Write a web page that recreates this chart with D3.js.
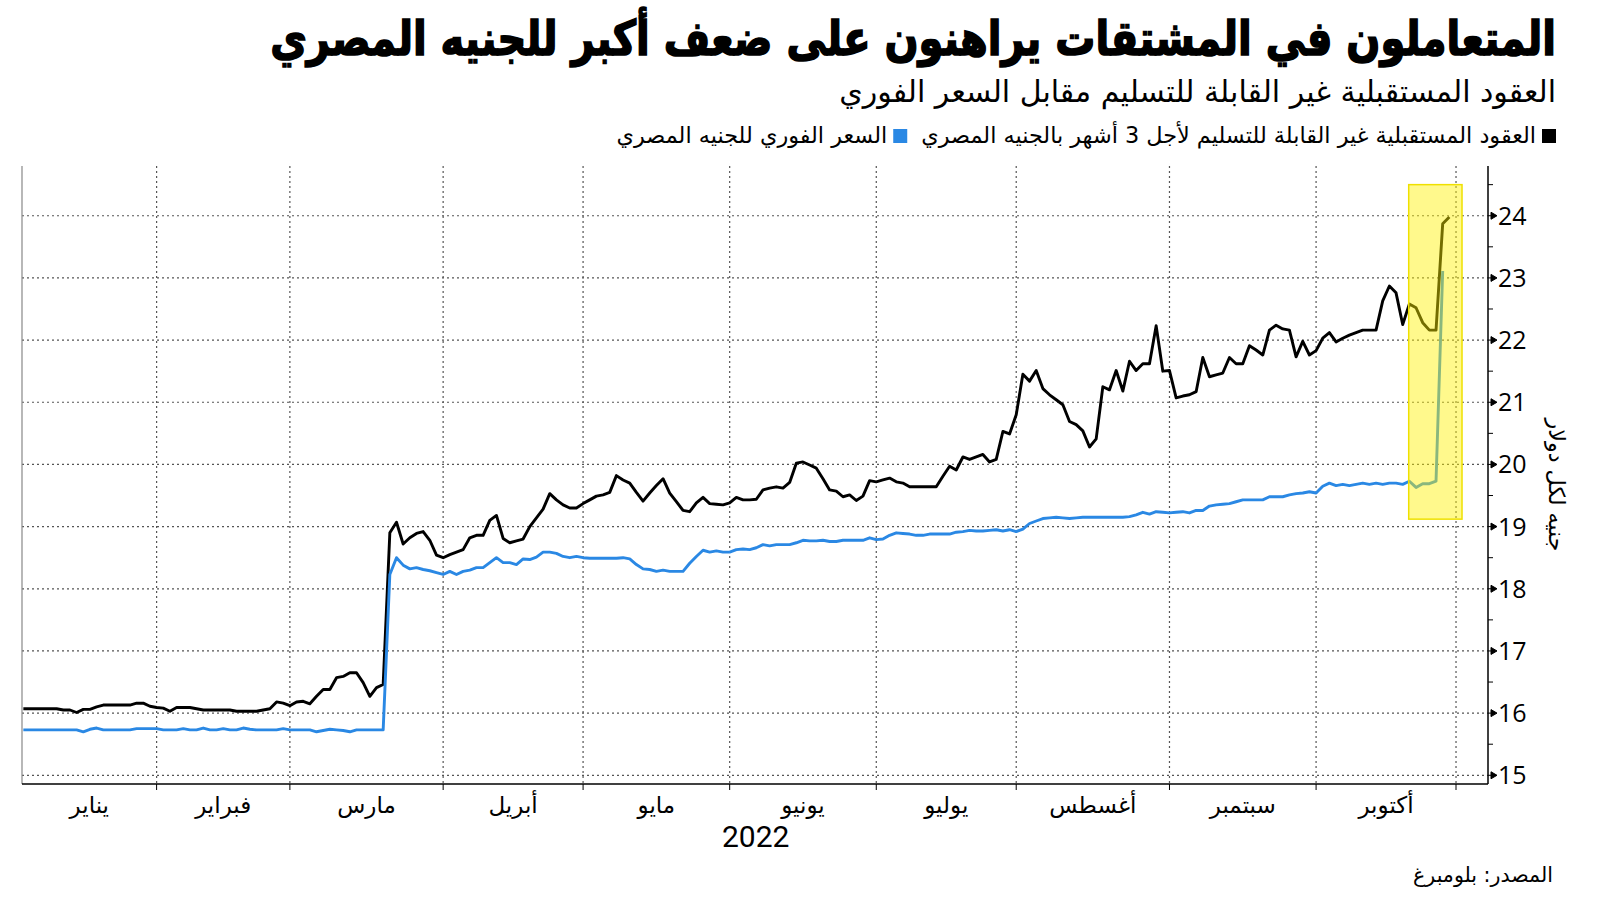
<!DOCTYPE html>
<html>
<head>
<meta charset="utf-8">
<script src="https://cdn.jsdelivr.net/npm/d3@7/dist/d3.min.js"></script>
<style>
  body { margin: 0; background: #fff; }
  svg { display: block; }
</style>
</head>
<body>
<svg id="chart" width="1600" height="901"></svg>
<script>
// ---- chart text ----
var titleText = "المتعاملون في المشتقات يراهنون على ضعف أكبر للجنيه المصري";
var subtitleText = "العقود المستقبلية غير القابلة للتسليم مقابل السعر الفوري";
var seriesNames = ["العقود المستقبلية غير القابلة للتسليم لأجل 3 أشهر بالجنيه المصري", "السعر الفوري للجنيه المصري"];
var monthNames = ["يناير", "فبراير", "مارس", "أبريل", "مايو", "يونيو", "يوليو", "أغسطس", "سبتمبر", "أكتوبر"];
var yearLabel = "2022";
var yTicks = [15, 16, 17, 18, 19, 20, 21, 22, 23, 24];
var yTitle = "جنيه لكل دولار";
var sourceText = "المصدر: بلومبرغ";

// ---- data: one value per trading day (weekdays), starting 4 Jan 2022 ----
var firstDay = "2022-01-04";

// 3-month NDF, EGP per USD
var ndf = [
  16.07, 16.07, 16.07, 16.07, 16.07, 16.07, 16.05, 16.05, 16.01, 16.06,
  16.06, 16.10, 16.13, 16.13, 16.13, 16.13, 16.13, 16.16, 16.16, 16.11,
  16.09, 16.08, 16.03, 16.09, 16.09, 16.09, 16.07, 16.05, 16.05, 16.05,
  16.05, 16.05, 16.03, 16.03, 16.03, 16.03, 16.05, 16.07, 16.18, 16.16,
  16.12, 16.18, 16.19, 16.15, 16.27, 16.38, 16.38, 16.57, 16.59, 16.65,
  16.65, 16.49, 16.27, 16.41, 16.46, 18.90, 19.07, 18.72, 18.82, 18.89,
  18.92, 18.78, 18.54, 18.50, 18.55, 18.59, 18.63, 18.82, 18.86, 18.86,
  19.10, 19.18, 18.81, 18.74, 18.77, 18.80, 19.00, 19.14, 19.28, 19.53,
  19.43, 19.35, 19.30, 19.30, 19.37, 19.43, 19.49, 19.51, 19.55, 19.82,
  19.75, 19.70, 19.55, 19.41, 19.54, 19.66, 19.77, 19.54, 19.40, 19.26,
  19.24, 19.38, 19.47, 19.37, 19.36, 19.35, 19.38, 19.47, 19.43, 19.43,
  19.44, 19.59, 19.62, 19.64, 19.62, 19.71, 20.02, 20.04, 19.99, 19.94,
  19.77, 19.59, 19.57, 19.48, 19.51, 19.42, 19.49, 19.74, 19.72, 19.75,
  19.78, 19.72, 19.70, 19.64, 19.64, 19.64, 19.64, 19.64, 19.81, 19.97,
  19.91, 20.12, 20.08, 20.12, 20.16, 20.04, 20.08, 20.53, 20.49, 20.80,
  21.45, 21.34, 21.51, 21.22, 21.12, 21.04, 20.96, 20.69, 20.64, 20.54,
  20.28, 20.41, 21.25, 21.20, 21.51, 21.18, 21.66, 21.51, 21.62, 21.62,
  22.23, 21.50, 21.51, 21.07, 21.10, 21.12, 21.17, 21.72, 21.41, 21.44,
  21.47, 21.72, 21.62, 21.62, 21.91, 21.84, 21.76, 22.16, 22.24, 22.18,
  22.16, 21.73, 21.98, 21.76, 21.83, 22.03, 22.12, 21.97, 22.03, 22.08,
  22.12, 22.16, 22.16, 22.16, 22.63, 22.87, 22.76, 22.25, 22.58, 22.52,
  22.28, 22.16, 22.16, 23.87, 23.98
];

// spot rate, EGP per USD
var spot = [
  15.73, 15.73, 15.73, 15.73, 15.73, 15.73, 15.73, 15.73, 15.73, 15.70,
  15.74, 15.76, 15.73, 15.73, 15.73, 15.73, 15.73, 15.75, 15.75, 15.75,
  15.75, 15.73, 15.73, 15.73, 15.75, 15.73, 15.73, 15.76, 15.73, 15.73,
  15.75, 15.73, 15.73, 15.76, 15.74, 15.73, 15.73, 15.73, 15.73, 15.75,
  15.73, 15.73, 15.73, 15.73, 15.70, 15.72, 15.74, 15.73, 15.72, 15.70,
  15.73, 15.73, 15.73, 15.73, 15.73, 18.23, 18.50, 18.38, 18.32, 18.34,
  18.31, 18.29, 18.26, 18.23, 18.28, 18.23, 18.28, 18.30, 18.34, 18.34,
  18.42, 18.50, 18.42, 18.42, 18.39, 18.48, 18.47, 18.51, 18.59, 18.59,
  18.57, 18.52, 18.50, 18.52, 18.50, 18.49, 18.49, 18.49, 18.49, 18.49,
  18.50, 18.48, 18.39, 18.32, 18.31, 18.28, 18.30, 18.28, 18.28, 18.28,
  18.41, 18.52, 18.62, 18.59, 18.61, 18.59, 18.59, 18.63, 18.64, 18.63,
  18.66, 18.71, 18.69, 18.71, 18.71, 18.71, 18.74, 18.78, 18.77, 18.77,
  18.78, 18.76, 18.76, 18.78, 18.78, 18.78, 18.78, 18.82, 18.79, 18.80,
  18.86, 18.90, 18.89, 18.88, 18.86, 18.86, 18.88, 18.88, 18.88, 18.88,
  18.91, 18.92, 18.94, 18.93, 18.93, 18.94, 18.95, 18.93, 18.95, 18.92,
  18.96, 19.05, 19.09, 19.13, 19.14, 19.15, 19.14, 19.13, 19.14, 19.15,
  19.15, 19.15, 19.15, 19.15, 19.15, 19.15, 19.16, 19.19, 19.23, 19.20,
  19.24, 19.23, 19.22, 19.23, 19.24, 19.22, 19.26, 19.26, 19.33, 19.35,
  19.36, 19.37, 19.40, 19.43, 19.43, 19.43, 19.43, 19.48, 19.48, 19.48,
  19.51, 19.53, 19.54, 19.56, 19.54, 19.65, 19.70, 19.66, 19.68, 19.66,
  19.68, 19.70, 19.68, 19.70, 19.68, 19.70, 19.70, 19.68, 19.73, 19.63,
  19.69, 19.69, 19.73, 23.11
];

// highlighted window (trading-day number, EGP per USD)
var highlightDays = [207.9, 215.9];
var highlightRange = [19.12, 24.5];

// ---- trading-day calendar ----
function tradingDays(start, n) {
  var out = [];
  var d = new Date(start + "T00:00:00");
  while (out.length < n) {
    var wd = d.getDay();
    if (wd !== 0 && wd !== 6) out.push(new Date(d));
    d.setDate(d.getDate() + 1);
  }
  return out;
}
var days = tradingDays(firstDay, 230);

// first trading day of each month Feb..Nov
var monthStarts = [];
for (var m = 1; m <= 10; m++) {
  var ms = new Date(2022, m, 1);
  monthStarts.push(days.findIndex(function(d) { return d >= ms; }));
}

// ---- layout ----
var svg = d3.select("#chart");
var plotLeft = 22, plotRight = 1488, plotTop = 166, plotBottom = 784;

var x = d3.scaleLinear().domain([-0.2, 219.8]).range([plotLeft, plotRight]);
var y = d3.scaleLinear().domain([14.86, 24.8]).range([plotBottom, plotTop]);

var arabicFont = "'DejaVu Sans', sans-serif";

function fitWidth(sel, w) {
  var len = sel.node().getComputedTextLength();
  var fs = parseFloat(sel.attr("font-size"));
  sel.attr("font-size", fs * w / len);
  return fs * w / len;
}

// ---- titles ----
// heavy display face in the original: stretch DejaVu Bold a little upward
var t = svg.append("text")
  .attr("transform", "translate(1556,55) scale(1,1.2)")
  .attr("direction", "rtl").attr("text-anchor", "start")
  .attr("font-family", arabicFont).attr("font-weight", "bold")
  .attr("font-size", 40).attr("fill", "#000")
  .attr("stroke", "#000").attr("stroke-width", 1.4)
  .text(titleText);
fitWidth(t, 1286);

var st = svg.append("text")
  .attr("x", 1556).attr("y", 102)
  .attr("direction", "rtl").attr("text-anchor", "start")
  .attr("font-family", arabicFont)
  .attr("font-size", 26).attr("fill", "#000")
  .text(subtitleText);
fitWidth(st, 717);

// ---- legend ----
var legendColors = ["#000000", "#2a88e4"];
var lx = 1556;
var legendSize = null;
seriesNames.forEach(function(name, i) {
  svg.append("rect")
    .attr("x", lx - 14).attr("y", 129)
    .attr("width", 14).attr("height", 14)
    .attr("fill", legendColors[i]);
  var lt = svg.append("text")
    .attr("x", lx - 20).attr("y", 143)
    .attr("direction", "rtl").attr("text-anchor", "start")
    .attr("font-family", arabicFont)
    .attr("font-size", legendSize || 19).attr("fill", "#000")
    .text(name);
  if (i === 0) legendSize = fitWidth(lt, 615);
  lx = lx - 20 - lt.node().getComputedTextLength() - 14;
});

// ---- grid ----
var grid = svg.append("g");
grid.selectAll("line.h")
  .data(yTicks)
  .enter().append("line")
  .attr("class", "h")
  .attr("x1", plotLeft).attr("x2", plotRight)
  .attr("y1", function(d) { return y(d); })
  .attr("y2", function(d) { return y(d); })
  .attr("stroke", "#555").attr("stroke-width", 1.2)
  .attr("stroke-dasharray", "2,3");

grid.selectAll("line.v")
  .data(monthStarts)
  .enter().append("line")
  .attr("class", "v")
  .attr("x1", function(d) { return x(d); })
  .attr("x2", function(d) { return x(d); })
  .attr("y1", plotTop).attr("y2", plotBottom)
  .attr("stroke", "#555").attr("stroke-width", 1.2)
  .attr("stroke-dasharray", "2,3");

// ---- lines ----
var line = d3.line()
  .x(function(d, i) { return x(i); })
  .y(function(d) { return y(d); });

svg.append("path")
  .datum(ndf)
  .attr("d", line)
  .attr("fill", "none")
  .attr("stroke", legendColors[0])
  .attr("stroke-width", 2.9)
  .attr("stroke-linejoin", "round");

svg.append("path")
  .datum(spot)
  .attr("d", line)
  .attr("fill", "none")
  .attr("stroke", legendColors[1])
  .attr("stroke-width", 2.9)
  .attr("stroke-linejoin", "round");

// ---- highlight ----
svg.append("rect")
  .attr("x", x(highlightDays[0]))
  .attr("y", y(highlightRange[1]))
  .attr("width", x(highlightDays[1]) - x(highlightDays[0]))
  .attr("height", y(highlightRange[0]) - y(highlightRange[1]))
  .attr("fill", "#fff200")
  .attr("fill-opacity", 0.45)
  .attr("stroke", "#efe000")
  .attr("stroke-width", 1.5);

// ---- axes ----
svg.append("line")
  .attr("x1", plotLeft).attr("x2", plotLeft)
  .attr("y1", plotTop).attr("y2", plotBottom)
  .attr("stroke", "#888").attr("stroke-width", 1.2);

svg.append("line")
  .attr("x1", plotRight).attr("x2", plotRight)
  .attr("y1", plotTop).attr("y2", plotBottom)
  .attr("stroke", "#000").attr("stroke-width", 1.5);

svg.append("line")
  .attr("x1", plotLeft).attr("x2", plotRight)
  .attr("y1", plotBottom).attr("y2", plotBottom)
  .attr("stroke", "#000").attr("stroke-width", 1.5);

// month ticks under the axis
svg.selectAll("line.mt")
  .data(monthStarts)
  .enter().append("line")
  .attr("class", "mt")
  .attr("x1", function(d) { return x(d); })
  .attr("x2", function(d) { return x(d); })
  .attr("y1", plotBottom).attr("y2", plotBottom + 6)
  .attr("stroke", "#000").attr("stroke-width", 1);

// month labels, centred in each month
var bounds = [x.domain()[0]].concat(monthStarts);
svg.selectAll("text.month")
  .data(monthNames)
  .enter().append("text")
  .attr("class", "month")
  .attr("x", function(d, i) { return (x(bounds[i]) + x(bounds[i + 1])) / 2; })
  .attr("y", 813)
  .attr("text-anchor", "middle")
  .attr("font-family", arabicFont)
  .attr("font-size", 23)
  .attr("fill", "#000")
  .text(function(d) { return d; });

svg.append("text")
  .attr("x", x(monthStarts[4]) + 26).attr("y", 847)
  .attr("text-anchor", "middle")
  .attr("font-family", "'Liberation Sans Narrow', 'Roboto', sans-serif")
  .attr("font-size", 30)
  .attr("fill", "#000")
  .text(yearLabel);

// y ticks on the right
var yHalf = d3.range(15.5, 24.6, 1);
svg.selectAll("line.minor")
  .data(yHalf)
  .enter().append("line")
  .attr("class", "minor")
  .attr("x1", plotRight).attr("x2", plotRight + 5)
  .attr("y1", function(d) { return y(d); })
  .attr("y2", function(d) { return y(d); })
  .attr("stroke", "#000").attr("stroke-width", 1);

svg.selectAll("path.major")
  .data(yTicks)
  .enter().append("path")
  .attr("class", "major")
  .attr("d", function(d) {
    var yy = y(d);
    return "M" + plotRight + "," + yy + "H" + (plotRight + 3) +
      "M" + (plotRight + 3) + "," + (yy - 3.5) + "L" + (plotRight + 9) + "," + yy + "L" + (plotRight + 3) + "," + (yy + 3.5) + "Z";
  })
  .attr("fill", "#000").attr("stroke", "#000").attr("stroke-width", 1);

svg.selectAll("text.ytick")
  .data(yTicks)
  .enter().append("text")
  .attr("class", "ytick")
  .attr("x", plotRight + 10)
  .attr("y", function(d) { return y(d); })
  .attr("dy", "0.36em")
  .attr("font-family", "'Open Sans', sans-serif")
  .attr("font-size", 25)
  .attr("fill", "#000")
  .text(function(d) { return d; });

var yt = svg.append("text")
  .attr("transform", "translate(1557,485) rotate(90)")
  .attr("text-anchor", "middle")
  .attr("dominant-baseline", "central")
  .attr("font-family", arabicFont)
  .attr("font-size", 18)
  .attr("fill", "#000")
  .text(yTitle);
fitWidth(yt, 133);

// ---- source ----
var src = svg.append("text")
  .attr("x", 1553).attr("y", 882)
  .attr("direction", "rtl").attr("text-anchor", "start")
  .attr("font-family", arabicFont)
  .attr("font-size", 19)
  .attr("fill", "#000")
  .text(sourceText);
fitWidth(src, 140);
</script>
</body>
</html>
